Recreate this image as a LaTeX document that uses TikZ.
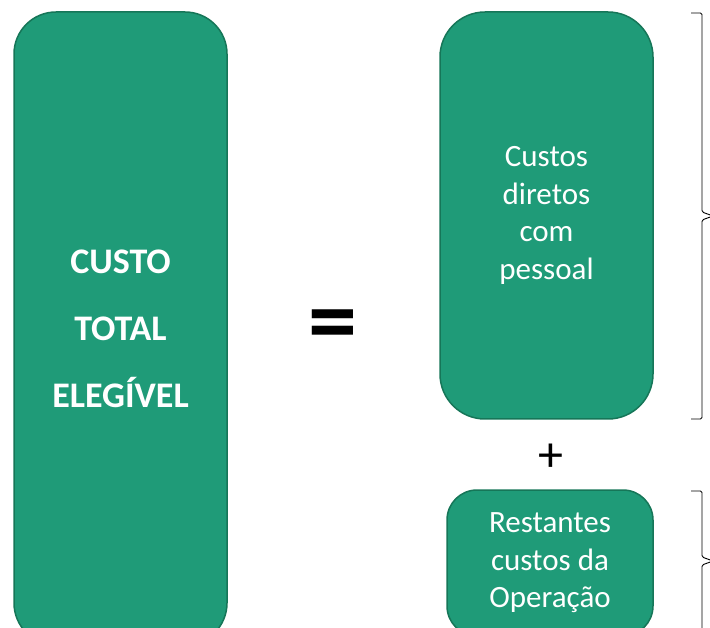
\documentclass[tikz,border=0pt]{standalone}
\usepackage{fontspec}
\setmainfont{Carlito}
\definecolor{boxgreen}{RGB}{31,155,120}
\definecolor{boxedge}{RGB}{22,118,88}

\begin{document}
\begin{tikzpicture}[x=1pt, y=-1pt,
    costbox/.style={draw=boxedge, fill=boxgreen, line width=1.5pt, text=white, align=center, inner sep=0pt},
    bracket/.style={line width=0.9pt, rounded corners=1.5pt}]
  \useasboundingbox (0,0) rectangle (710,628);
  \clip (0,0) rectangle (710,628);
  % the three cost boxes
  \node[costbox, minimum width=213pt, minimum height=633pt, rounded corners=42pt,
        font=\bfseries\fontsize{36}{67}\selectfont] (total) at (120.5,328.5) {CUSTO\\TOTAL\\ELEGÍVEL};
  \node[costbox, minimum width=213pt, minimum height=407pt, rounded corners=45pt,
        font=\fontsize{31}{37.5}\selectfont] (pessoal) at (546.5,215.5) {Custos\\diretos\\com\\pessoal};
  \node[costbox, minimum width=206pt, minimum height=146pt, rounded corners=30pt,
        font=\fontsize{31}{37.5}\selectfont] (restantes) at (550,563) {Restantes\\custos da\\Operação};
  % signs
  \node[font=\bfseries\fontsize{98}{98}\selectfont] (equals) at (333,332) {=};
  \node[font=\fontsize{50}{50}\selectfont] (plus) at (551,458) {+};
  % braces
  \foreach \top/\tip/\bot in {13/216/419, 491/561/631}{
    \coordinate (btop) at (691,\top);
    \coordinate (btip) at (713,\tip);
    \coordinate (bbot) at (691,\bot);
    \draw[bracket] (btop) -- ++(11,0) |- ([xshift=-11pt, yshift=4pt]btip) -- (btip)
      -- ([xshift=-11pt, yshift=-4pt]btip) |- (bbot);
  }
\end{tikzpicture}
\end{document}
